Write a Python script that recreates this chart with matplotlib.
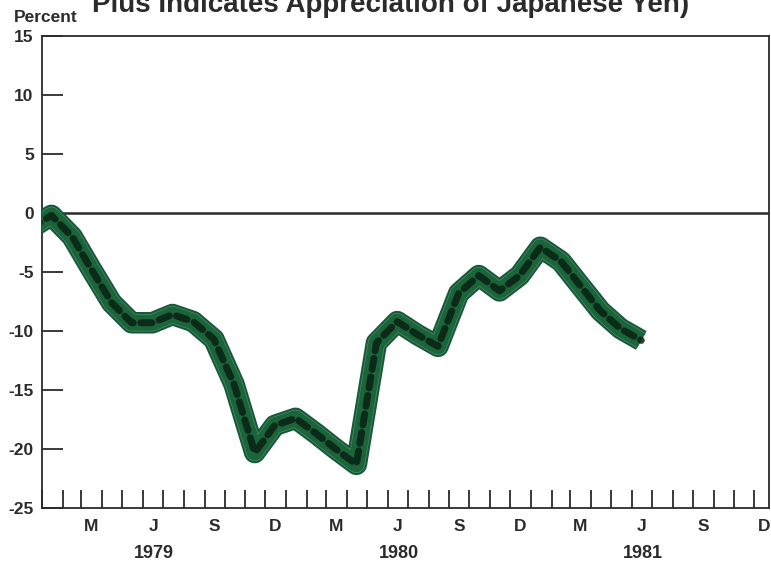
import pandas as pd
import matplotlib.pyplot as plt
import matplotlib.dates as mdates
from matplotlib.ticker import FixedLocator, FixedFormatter

plt.rcParams['font.family'] = ['Liberation Sans', 'DejaVu Sans']

# monthly observations, plotted mid-month (Dec 1978 - Jun 1981)
months = pd.date_range('1978-12-01', periods=31, freq='MS') + pd.Timedelta(days=14)
values = [
    -1.3,                                                                       # Dec 78
    -0.2, -2.0, -4.7, -7.6, -9.3, -9.3, -8.6, -9.2, -10.7, -14.5, -20.3, -18.0,  # 1979
    -17.4, -18.7, -20.0, -21.3, -11.0, -9.2, -10.3, -11.3, -6.8, -5.3, -6.6, -5.3,  # 1980
    -2.9, -4.1, -6.1, -8.3, -9.8, -10.8,                                        # 1981
]

y_ticks = [-25, -20, -15, -10, -5, 0, 5, 10, 15]
y_labels = ['-25', '-20', '-15', '-10', '-5', '0', '5', '10', '15']
month_letters = ['M', 'J', 'S', 'D']
years = [1979, 1980, 1981]

ink = '#2b2b2b'
fig = plt.figure(figsize=(7.71, 5.68), dpi=100)
ax = fig.add_axes([0.0545, 0.1056, 0.943, 0.831])

# thick green band with a dark dashed core
ax.plot(months, values, color='#17583a', lw=15.5, solid_joinstyle='round',
        solid_capstyle='butt', zorder=3)
ax.plot(months, values, color='#4d8c66', lw=12.5, solid_joinstyle='round',
        solid_capstyle='butt', zorder=4)
ax.plot(months, values, color='#1b653b', lw=11.5, solid_joinstyle='round',
        solid_capstyle='butt', zorder=5)
ax.plot(months, values, color='#0a2013', lw=5, ls=(0, (1.6, 1.1)),
        dash_joinstyle='round', dash_capstyle='round', alpha=0.85, zorder=6)

ax.axhline(0, color=ink, lw=1.8, zorder=2)

ax.set_ylim(-25, 15)
ax.set_xlim(pd.Timestamp('1979-01-01'), pd.Timestamp('1981-12-23'))

ax.yaxis.set_major_locator(FixedLocator(y_ticks))
ax.yaxis.set_major_formatter(FixedFormatter(y_labels))

# month boundary ticks, letters centred on the months
ax.xaxis.set_major_locator(mdates.MonthLocator())
ax.xaxis.set_major_formatter(plt.NullFormatter())
ax.xaxis.set_minor_locator(mdates.MonthLocator(bymonth=[3, 6, 9, 12], bymonthday=16))
minor_labels = month_letters * len(years)
ax.xaxis.set_minor_formatter(FixedFormatter(minor_labels))

ax.tick_params(axis='y', direction='in', length=15, width=1.3, color=ink,
               labelsize=12.5, pad=6, labelcolor=ink)
ax.tick_params(axis='x', which='major', direction='in', length=13, width=1.3,
               color=ink)
ax.tick_params(axis='x', which='minor', length=0, labelsize=12.5, pad=8,
               labelcolor=ink)
for lab in ax.get_yticklabels() + ax.get_xticklabels(minor=True):
    lab.set_fontweight('bold')

for s in ax.spines.values():
    s.set_color(ink)
    s.set_linewidth(1.3)

for yr in years:
    ax.text(pd.Timestamp(f'{yr}-06-17'), -0.097, str(yr), transform=ax.get_xaxis_transform(),
            ha='center', va='center', fontsize=13, fontweight='bold', color=ink)

fig.text(0.018, 0.962, 'Percent', ha='left', va='baseline', fontsize=12.5,
         fontweight='bold', color=ink)
# title sits partly above the top edge, as in the scanned source
fig.text(0.507, 0.979, 'Plus Indicates Appreciation of Japanese Yen)', ha='center',
         va='baseline', fontsize=20, fontweight='bold', color=ink)

fig.savefig('out.png', dpi=100, facecolor='white')
